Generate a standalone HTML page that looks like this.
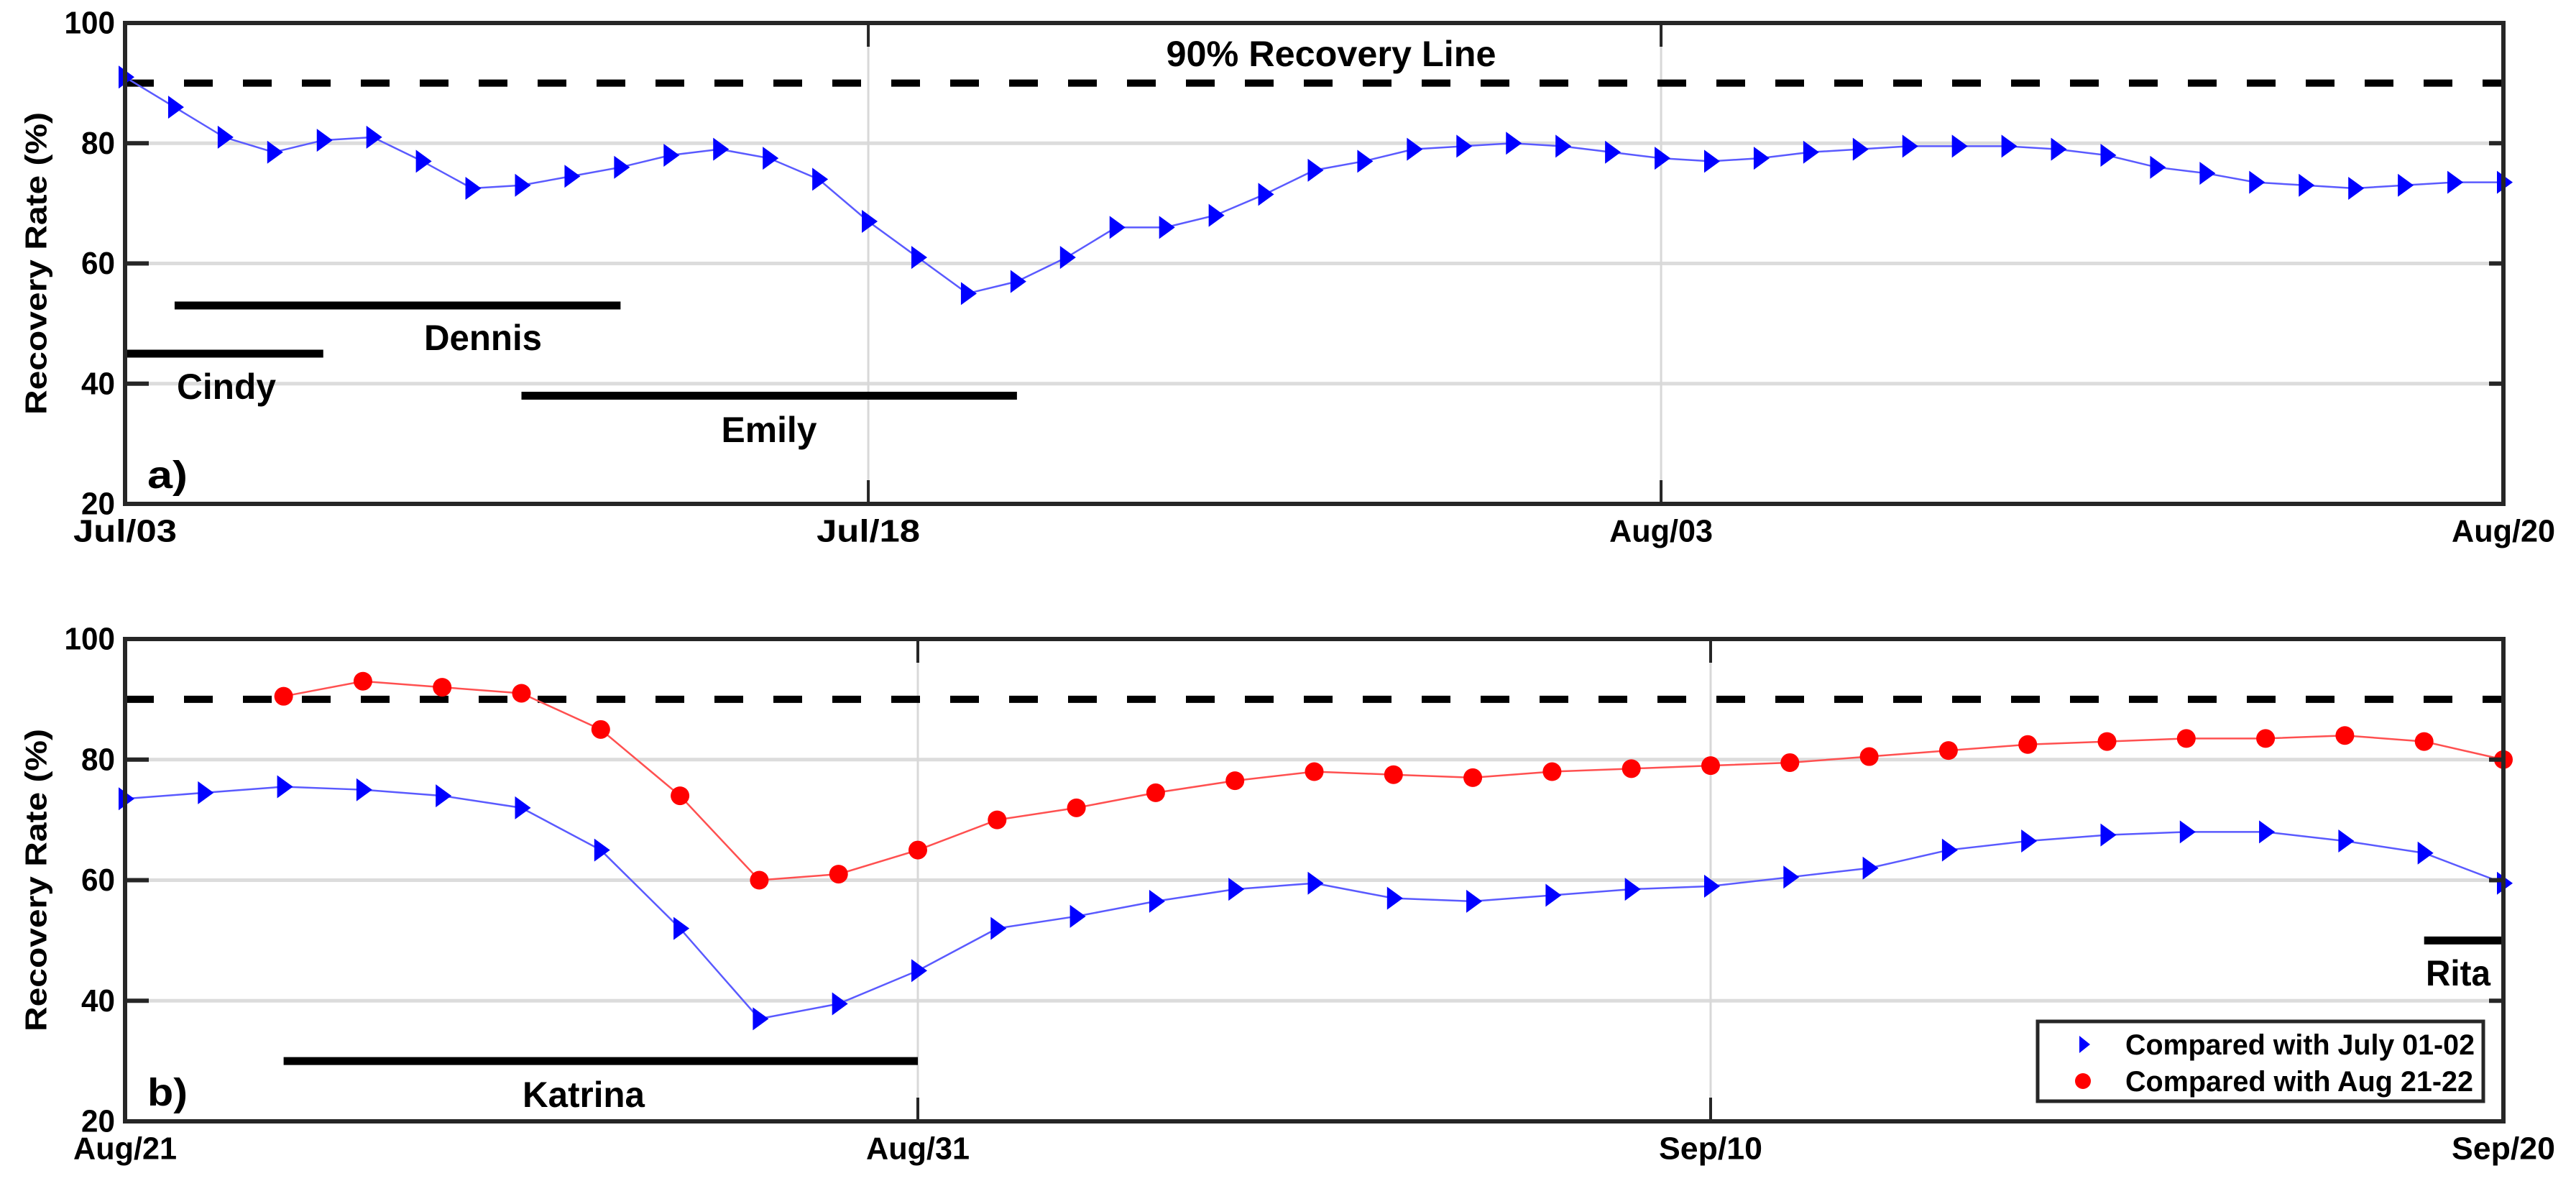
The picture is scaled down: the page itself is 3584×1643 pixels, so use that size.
<!DOCTYPE html>
<html><head><meta charset="utf-8"><style>
html,body{margin:0;padding:0;background:#fff;}
svg{display:block;font-family:"Liberation Sans",sans-serif;}
</style></head><body>
<svg id="chart" width="3584" height="1643" viewBox="0 0 3584 1643" xmlns="http://www.w3.org/2000/svg"></svg>
<script>
// ---- Panel a data (daily Jul/03 .. Aug/20) ----
const topValues = [91,86,81,78.5,80.5,81,77,72.5,73,74.5,76,78,79,77.5,74,67,61,55,57,61,66,66,68,71.5,75.5,77,79,79.5,80,79.5,78.5,77.5,77,77.5,78.5,79,79.5,79.5,79.5,79,78,76,75,73.5,73,72.5,73,73.5,73.5];
const topTickDays = [0,15,31,48];
const topTickLabels = ["Jul/03","Jul/18","Aug/03","Aug/20"];
const topEvents = [["Cindy",0,4,45],["Dennis",1,10,53],["Emily",8,18,38]];
// ---- Panel b data (daily Aug/21 .. Sep/20) ----
const bottomBlue = [73.5,74.5,75.5,75,74,72,65,52,37,39.5,45,52,54,56.5,58.5,59.5,57,56.5,57.5,58.5,59,60.5,62,65,66.5,67.5,68,68,66.5,64.5,59.5];
const bottomRedStart = 2;
const bottomRed = [90.5,93,92,91,85,74,60,61,65,70,72,74.5,76.5,78,77.5,77,78,78.5,79,79.5,80.5,81.5,82.5,83,83.5,83.5,84,83,80];
const bottomTickDays = [0,10,20,30];
const bottomTickLabels = ["Aug/21","Aug/31","Sep/10","Sep/20"];
const bottomEvents = [["Katrina",2,10,30],["Rita",29,30,50]];
const yTicks = [20,40,60,80,100];
const recoveryLine = 90;

const NS="http://www.w3.org/2000/svg";
const svg=document.getElementById('chart');
function el(tag,attrs,parent){const e=document.createElementNS(NS,tag);for(const k in attrs)e.setAttribute(k,attrs[k]);(parent||svg).appendChild(e);return e;}
function txt(parent,s,x,y,size,anchor,w,weight){const t=el('text',{x:x,y:y,'font-size':size,'text-anchor':anchor||'middle','dominant-baseline':'central','font-weight':weight||'bold',fill:'#000'},parent);if(w){t.setAttribute('textLength',w);t.setAttribute('lengthAdjust','spacingAndGlyphs');}t.textContent=s;return t;}

function panel(cfg){
  const L=174,R=3483,T=cfg.top,B=cfg.bottom;
  const x=d=>L+(R-L)*d/cfg.days;
  const y=v=>T+(B-T)*(100-v)/80;
  const g=el('g',{});
  
  
  // grid
  const grid=el('g',{},g);
  
  
  yTicks.forEach(v=>{if(v>20&&v<100){const l=el('line',{x1:L,x2:R,y1:y(v),y2:y(v),stroke:'#dcdcdc','stroke-width':5},grid);}});
  cfg.tickDays.forEach(d=>{if(d>0&&d<cfg.days){const l=el('line',{x1:x(d),x2:x(d),y1:T,y2:B,stroke:'#d8d8d8','stroke-width':3},grid);}});
  // 90% line
  const dl=el('line',{x1:L,x2:R,y1:y(recoveryLine),y2:y(recoveryLine),stroke:'#000','stroke-width':10,'stroke-dasharray':'40 42'},g);
  
  
  // events
  cfg.events.forEach(ev=>{
    const b=el('line',{x1:x(ev[1]),x2:x(ev[2]),y1:y(ev[3]),y2:y(ev[3]),stroke:'#000','stroke-width':11},g);
    
    
  });
  // series
  cfg.series.forEach(s=>{
    const pts=s.values.map((v,i)=>[x(i+s.start),y(v)]);
    const p=el('polyline',{points:pts.map(p=>p.join(',')).join(' '),fill:'none',stroke:s.line,'stroke-width':2.5},g);
    
    
    pts.forEach(pt=>{
      let m;
      if(s.marker==='tri'){m=el('polygon',{points:`${pt[0]-9},${pt[1]-16} ${pt[0]+13},${pt[1]} ${pt[0]-9},${pt[1]+16}`,fill:'#0000ff'},g);}
      else{m=el('ellipse',{cx:pt[0],cy:pt[1],rx:13,ry:13,fill:'#ff0000'},g);}
      
      
    });
  });
  // axes box
  const box=el('rect',{x:L,y:T,width:R-L,height:B-T,fill:'none',stroke:'#262626','stroke-width':6},g);
  
  
  // y ticks
  yTicks.forEach(v=>{
    const t=el('line',{x1:L,x2:L+33,y1:y(v),y2:y(v),stroke:'#262626','stroke-width':6},g);
    
    
    const t2=el('line',{x1:R-20,x2:R,y1:y(v),y2:y(v),stroke:'#262626','stroke-width':6},g);
    
    
    const lb=txt(g,String(v),L-14,y(v),44,'end',String(v).length*23.5);
    
    
  });
  // x ticks
  cfg.tickDays.forEach((d,i)=>{
    const t=el('line',{x1:x(d),x2:x(d),y1:B,y2:B-33,stroke:'#262626','stroke-width':4},g);
    
    
    const t2=el('line',{x1:x(d),x2:x(d),y1:T,y2:T+33,stroke:'#262626','stroke-width':4},g);
    
    
    const lb=txt(g,cfg.tickLabels[i],x(d),B+38,44,'middle',144);
    
    
  });
  // y title
  const yt=txt(g,'Recovery Rate (%)',0,0,42,'middle',421);
  yt.setAttribute('transform',`translate(50,${(T+B)/2}) rotate(-90)`);
  
  
  // panel label
  const pl=txt(g,cfg.label,205,B-40,54,'start',56);
  
  
  return {x,y,g};
}

const a=panel({name:'panel-a',top:32,bottom:701,days:48,tickDays:topTickDays,tickLabels:topTickLabels,events:topEvents,label:'a)',
  series:[{name:'july-comparison',values:topValues,start:0,marker:'tri',line:'#5a5aff'}]});
let t;
t=txt(a.g,'90% Recovery Line',1852,75,50,'middle',459);  
t=txt(a.g,'Cindy',315,538,50,'middle',138);  
t=txt(a.g,'Dennis',672,470,50,'middle',164);  
t=txt(a.g,'Emily',1070,598,50,'middle',133);  

const b=panel({name:'panel-b',top:889,bottom:1560,days:30,tickDays:bottomTickDays,tickLabels:bottomTickLabels,events:bottomEvents,label:'b)',
  series:[{name:'july-comparison',values:bottomBlue,start:0,marker:'tri',line:'#5a5aff'},
          {name:'aug-comparison',values:bottomRed,start:bottomRedStart,marker:'dot',line:'#ff5050'}]});
t=txt(b.g,'Katrina',812,1523,50,'middle',170);  
t=txt(b.g,'Rita',3465,1354,50,'end',90);  

// legend
const lg=el('g',{},b.g);


const lr=el('rect',{x:2835,y:1421,width:620,height:111,fill:'#fff',stroke:'#262626','stroke-width':5},lg);


const m1=el('polygon',{points:'2893,1441 2908,1453 2893,1465',fill:'#0000ff'},lg);


const m2=el('ellipse',{cx:2898,cy:1504,rx:11,ry:11,fill:'#ff0000'},lg);


t=txt(lg,'Compared with July 01-02',2957,1454,40,'start',486);  
t=txt(lg,'Compared with Aug 21-22',2957,1505,40,'start',484);  
</script>
</body></html>
